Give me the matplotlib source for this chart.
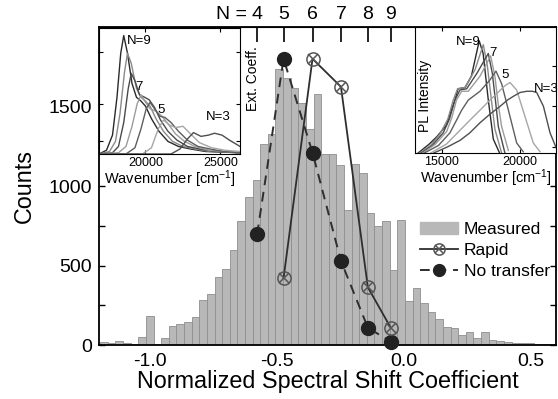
import matplotlib
matplotlib.use("Agg")
import matplotlib.pyplot as plt
import numpy as np
from matplotlib.patches import Patch

plt.rcParams['font.family'] = ['Liberation Sans', 'DejaVu Sans']
plt.rcParams['mathtext.default'] = 'regular'

# histogram: 60 bins of 0.03 starting at -1.195
bin_start = -1.195
bin_width = 0.03
counts = [18, 13, 25, 10, 5, 50, 185, 5, 44, 118,
          134, 142, 175, 283, 322, 430, 477, 600, 778, 930,
          1035, 1265, 1327, 1735, 1680, 1615, 1520, 1357, 1580, 1200,
          1204, 1131, 850, 1140, 1083, 829, 750, 780, 470, 787,
          276, 360, 265, 208, 163, 115, 108, 62, 82, 44,
          82, 33, 28, 21, 12, 11, 14, 8, 8, 6]

# calculated coefficients per chain length N
n_labels = ['4', '5', '6', '7', '8', '9']
n_pos = [-0.577, -0.473, -0.359, -0.247, -0.141, -0.051]
rapid_pos = n_pos[1:]
rapid_counts = [421, 1800, 1624, 363, 109]
notransfer_counts = [697, 1800, 1210, 529, 109, 21]

# absorption spectra (left inset)
abs_x9 = [16900, 17400, 17800, 18100, 18350, 18550, 18800, 19100, 19400, 19700, 20000, 20400, 20900, 21500, 22200, 23000, 24000, 26300]
abs_y9 = [0.0, 0.03, 0.15, 0.45, 0.80, 0.94, 0.80, 0.56, 0.45, 0.42, 0.38, 0.28, 0.18, 0.10, 0.06, 0.04, 0.02, 0.01]
abs_x8 = [16900, 17600, 18000, 18300, 18600, 18800, 19050, 19400, 19700, 20000, 20300, 20700, 21200, 21800, 22500, 23300, 24300, 26300]
abs_y8 = [0.0, 0.02, 0.10, 0.32, 0.65, 0.80, 0.72, 0.52, 0.45, 0.42, 0.38, 0.28, 0.18, 0.10, 0.06, 0.04, 0.02, 0.01]
abs_x7 = [16900, 17800, 18200, 18550, 18850, 19050, 19300, 19600, 19950, 20250, 20600, 21000, 21500, 22100, 22800, 23600, 24600, 26300]
abs_y7 = [0.0, 0.01, 0.06, 0.25, 0.52, 0.64, 0.58, 0.47, 0.45, 0.43, 0.37, 0.27, 0.18, 0.11, 0.06, 0.04, 0.02, 0.01]
abs_x6 = [16900, 18200, 18700, 19100, 19450, 19700, 19950, 20300, 20700, 21100, 21500, 22000, 22600, 23300, 24200, 25200, 26300]
abs_y6 = [0.0, 0.01, 0.06, 0.22, 0.40, 0.47, 0.42, 0.36, 0.34, 0.30, 0.24, 0.16, 0.10, 0.06, 0.03, 0.02, 0.01]
abs_x5 = [16900, 18700, 19300, 19700, 20050, 20300, 20600, 20950, 21300, 21700, 22200, 22800, 23500, 24300, 25200, 26300]
abs_y5 = [0.0, 0.0, 0.05, 0.20, 0.36, 0.41, 0.36, 0.30, 0.29, 0.25, 0.18, 0.11, 0.06, 0.04, 0.02, 0.01]
abs_x4 = [16900, 19800, 20400, 20850, 21200, 21600, 22000, 22500, 23000, 23600, 24400, 25300, 26300]
abs_y4 = [0.0, 0.0, 0.05, 0.20, 0.27, 0.23, 0.21, 0.22, 0.16, 0.09, 0.05, 0.03, 0.02]
abs_x3 = [16900, 21700, 22300, 22800, 23200, 23700, 24200, 24600, 25100, 25600, 26300]
abs_y3 = [0.0, 0.0, 0.04, 0.12, 0.17, 0.14, 0.15, 0.165, 0.15, 0.11, 0.06]

# PL spectra (right inset)
pl_x9 = [13500, 14200, 14700, 15300, 15850, 16050, 16500, 16900, 17400, 17650, 17980, 18300, 18700]
pl_y9 = [0.0, 0.07, 0.13, 0.22, 0.42, 0.51, 0.52, 0.61, 0.89, 0.79, 0.42, 0.11, 0.0]
pl_x8 = [13600, 14300, 14890, 15400, 15740, 16020, 16490, 17130, 17660, 17920, 18150, 18400, 18830]
pl_y8 = [0.0, 0.06, 0.15, 0.27, 0.42, 0.51, 0.52, 0.66, 0.86, 0.69, 0.45, 0.19, 0.0]
pl_x7 = [13700, 14400, 15100, 15500, 15850, 16170, 16600, 17240, 17980, 18240, 18450, 18620, 19040]
pl_y7 = [0.0, 0.06, 0.16, 0.27, 0.42, 0.50, 0.51, 0.63, 0.79, 0.63, 0.40, 0.21, 0.0]
pl_x6 = [13800, 14600, 15320, 15650, 15950, 16280, 16700, 17450, 18130, 18400, 18600, 18830, 19260]
pl_y6 = [0.0, 0.07, 0.17, 0.28, 0.42, 0.49, 0.49, 0.61, 0.77, 0.61, 0.40, 0.21, 0.02]
pl_x5 = [13900, 14800, 15530, 15950, 16280, 16700, 17450, 18086, 18470, 18830, 19100, 19364, 19790, 20210]
pl_y5 = [0.0, 0.06, 0.16, 0.26, 0.34, 0.42, 0.49, 0.58, 0.65, 0.55, 0.42, 0.29, 0.08, 0.01]
pl_x4 = [14300, 15300, 16170, 16800, 17450, 18000, 18510, 19000, 19364, 19790, 20320, 20850, 21280]
pl_y4 = [0.0, 0.07, 0.18, 0.26, 0.34, 0.41, 0.47, 0.53, 0.56, 0.50, 0.29, 0.08, 0.01]
pl_x3 = [14500, 15400, 16170, 16800, 17450, 18100, 18725, 19200, 19580, 20000, 20430, 20800, 21070, 21500, 21920, 22350]
pl_y3 = [0.0, 0.05, 0.10, 0.16, 0.24, 0.31, 0.37, 0.42, 0.45, 0.48, 0.49, 0.49, 0.48, 0.37, 0.16, 0.03]

bar_face = '#b8b8b8'
bar_edge = '#8e8e8e'
line_col = '#2e2e2e'
curve_cols = ['#2a2a2a', '#8a8a8a', '#4a4a4a', '#9c9c9c', '#5e5e5e', '#a6a6a6', '#4e4e4e']

fig = plt.figure(figsize=(5.58, 3.99), dpi=100)
ax = fig.add_axes([0.1774, 0.1353, 0.819, 0.797])

edges = bin_start + bin_width * np.arange(len(counts))
ax.bar(edges, counts, width=bin_width, align='edge', color=bar_face,
       edgecolor=bar_edge, linewidth=0.6, zorder=1)

ax.plot(rapid_pos, rapid_counts, '-', color=line_col, lw=1.3, zorder=3)
r_o, = ax.plot(rapid_pos, rapid_counts, 'o', ms=9.5, mfc='none', mec='#555555',
               mew=1.1, zorder=4, ls='none')
r_x, = ax.plot(rapid_pos, rapid_counts, 'x', ms=6.5, mec='#555555', mew=1.1,
               zorder=4, ls='none')
r_l, = ax.plot([], [], '-', color=line_col, lw=1.3)
nt, = ax.plot(n_pos, notransfer_counts, '--', color=line_col, lw=1.4, dashes=(5, 3.5),
              marker='o', ms=10, mfc='#222222', mec='#222222', zorder=3, clip_on=False)

ax.set_xlim(-1.2, 0.6)
ax.set_ylim(0, 2000)
ax.set_xticks([-1.0, -0.5, 0.0, 0.5])
ax.set_xticklabels(['-1.0', '-0.5', '0.0', '0.5'])
ax.set_yticks([0, 500, 1000, 1500])
ax.set_yticks([250, 750, 1250, 1750], minor=True)
ax.tick_params(axis='x', length=0, labelsize=14, pad=6)
ax.tick_params(axis='y', which='both', direction='in', left=True, right=True,
               length=4, width=1, labelsize=14, pad=5)
for s in ax.spines.values():
    s.set_linewidth(1.3)
ax.set_xlabel('Normalized Spectral Shift Coefficient', fontsize=16.8, labelpad=0)
ax.set_ylabel('Counts', fontsize=16.8, labelpad=9)

sec = ax.secondary_xaxis('top')
sec.set_xticks(n_pos)
sec.set_xticklabels(n_labels)
sec.tick_params(direction='in', length=11, width=1.2, labelsize=14, pad=3)
ax.annotate('N =', xy=(-0.617, 1.0), xycoords=('data', 'axes fraction'),
            xytext=(0, 3), textcoords='offset points', ha='right', va='bottom',
            fontsize=14)

ax.legend([Patch(facecolor=bar_face, edgecolor=bar_face), (r_l, r_o, r_x), nt],
          ['Measured', 'Rapid', 'No transfer'], loc='upper left',
          bbox_to_anchor=(0.703, 0.388), frameon=False, fontsize=12.5,
          handlelength=2.2, handletextpad=0.3, labelspacing=0.35,
          borderaxespad=0, borderpad=0, numpoints=1, markerscale=0.85)

# left inset: absorption
ins1 = fig.add_axes([0.1774, 0.614, 0.2527, 0.3158])
abs_x = [abs_x9, abs_x8, abs_x7, abs_x6, abs_x5, abs_x4, abs_x3]
abs_y = [abs_y9, abs_y8, abs_y7, abs_y6, abs_y5, abs_y4, abs_y3]
for xs, ys, c in zip(abs_x, abs_y, curve_cols):
    ins1.plot(xs, ys, color=c, lw=1.0)
ins1.set_xlim(16900, 26300)
ins1.set_ylim(0, 1.0)
ins1.set_xticks([20000, 25000])
ins1.set_yticks([0.1, 0.4, 0.81])
ins1.set_yticklabels([])
ins1.tick_params(direction='in', left=True, right=True, top=True, length=3,
                 labelsize=9, pad=2)
ins1.set_xlabel('Wavenumber [cm$^{-1}$]', fontsize=10.5, labelpad=0)
ins1.text(1.04, 0.6, 'Ext. Coeff.', transform=ins1.transAxes, rotation=90,
          ha='left', va='center', fontsize=10)
ins1.text(18750, 0.9, 'N=9', fontsize=9.5, va='center')
ins1.text(19350, 0.53, '7', fontsize=9.5, va='center')
ins1.text(20800, 0.35, '5', fontsize=9.5, va='center')
ins1.text(24000, 0.29, 'N=3', fontsize=9.5, va='center')

# right inset: photoluminescence
ins2 = fig.add_axes([0.7437, 0.6165, 0.2527, 0.3158])
pl_x = [pl_x9, pl_x8, pl_x7, pl_x6, pl_x5, pl_x4, pl_x3]
pl_y = [pl_y9, pl_y8, pl_y7, pl_y6, pl_y5, pl_y4, pl_y3]
for xs, ys, c in zip(pl_x, pl_y, curve_cols):
    ins2.plot(xs, ys, color=c, lw=1.0)
ins2.set_xlim(13300, 22300)
ins2.set_ylim(0, 1.0)
ins2.set_xticks([15000, 20000])
ins2.set_yticks([0.05, 0.37, 0.69])
ins2.set_yticklabels([])
ins2.tick_params(direction='in', left=False, right=True, top=True, length=3,
                 labelsize=9, pad=2)
ins2.set_xlabel('Wavenumber [cm$^{-1}$]', fontsize=10.5, labelpad=0)
ins2.text(0.02, 0.45, 'PL Intensity', transform=ins2.transAxes, rotation=90,
          ha='left', va='center', fontsize=10)
ins2.text(15900, 0.88, 'N=9', fontsize=9.5, va='center')
ins2.text(18050, 0.79, '7', fontsize=9.5, va='center')
ins2.text(18800, 0.62, '5', fontsize=9.5, va='center')
ins2.text(20900, 0.51, 'N=3', fontsize=9.5, va='center')

fig.savefig('out.png', dpi=100)
